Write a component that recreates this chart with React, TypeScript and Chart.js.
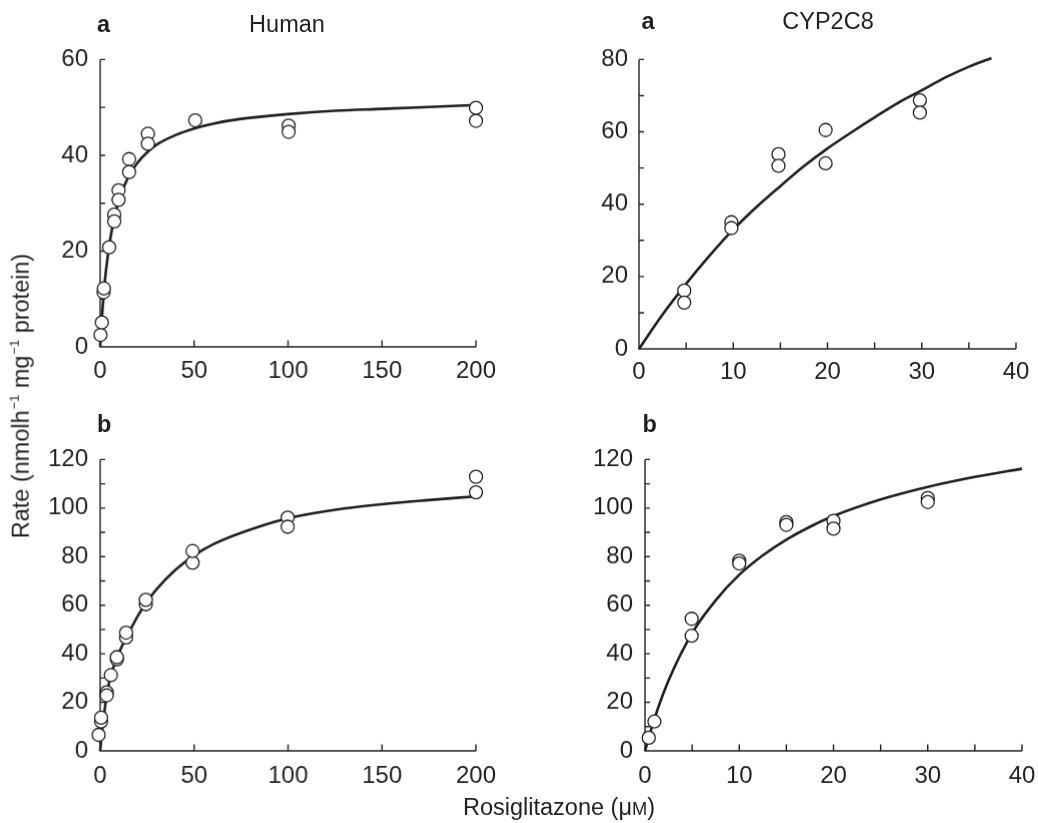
import React, { useEffect, useRef } from 'react';
import { Chart, registerables } from 'chart.js';

Chart.register(...registerables);

// ---------- Data ----------
// Human, panel a
const humanAPointsX = [0.2, 0.9, 1.8, 2, 4.8, 7.5, 7.5, 9.8, 9.8, 15.4, 15.4, 25.4, 25.4, 50.6, 100.3, 100.3, 200, 200];
const humanAPointsY = [2.5, 5.1, 11.4, 12.2, 20.8, 27.6, 26.2, 32.7, 30.7, 39.2, 36.5, 44.5, 42.4, 47.3, 46.2, 44.9, 49.9, 47.2];
const humanACurveX = [0, 0.5, 1, 2, 3, 5, 7.5, 10, 15, 20, 25, 30, 40, 50, 60, 75, 100, 125, 150, 175, 200];
const humanACurveY = [0, 3.4, 6.5, 11.6, 15.6, 21.5, 27, 30.6, 35.5, 38.5, 40.6, 42.2, 44.2, 45.6, 46.6, 47.6, 48.6, 49.3, 49.7, 50.1, 50.5];

// CYP2C8, panel a
const cypAPointsX = [4.8, 4.8, 9.8, 9.8, 14.8, 14.8, 19.8, 19.8, 29.8, 29.8];
const cypAPointsY = [16.1, 12.8, 35.0, 33.4, 53.8, 50.6, 60.5, 51.3, 68.7, 65.3];
const cypACurveX = [0, 2.5, 5, 7.5, 10, 12.5, 15, 17.5, 20, 22.5, 25, 27.5, 30, 32.5, 35, 37.4];
const cypACurveY = [0, 9.5, 18, 25.8, 33, 39.3, 45, 50.5, 55.4, 59.8, 64, 68, 71.5, 75, 78, 80.4];

// Human, panel b
const humanBPointsX = [-0.8, -0.8, -0.8, 0.5, 0.5, 3.5, 3.5, 5.7, 8.9, 8.9, 13.8, 13.8, 24.3, 24.3, 49.2, 49.2, 99.8, 99.8, 200, 200];
const humanBPointsY = [2.7, 4.0, 6.6, 12.1, 13.7, 24.1, 22.9, 31.2, 37.7, 38.6, 46.7, 48.7, 60.4, 62.2, 77.5, 82.3, 96.1, 92.3, 112.9, 106.5];
const humanBCurveX = [0, 1, 2, 3.5, 5, 7.5, 10, 15, 20, 25, 30, 40, 50, 60, 75, 100, 125, 150, 175, 200];
const humanBCurveY = [0, 8, 14.5, 23, 29, 35.5, 40.5, 48.3, 55.5, 61.5, 66.5, 74.5, 80.5, 85, 89.8, 95.8, 99.3, 101.6, 103.3, 104.8];

// CYP2C8, panel b
const cypBPointsX = [0.4, 1.0, 4.95, 4.95, 10, 10, 15, 15, 20, 20, 30, 30];
const cypBPointsY = [5.4, 12.1, 54.4, 47.4, 78.3, 77.2, 94.2, 93.1, 94.7, 91.5, 104.1, 102.5];
const cypBCurveX = [0, 1, 2.5, 5, 7.5, 10, 12.5, 15, 17.5, 20, 25, 30, 35, 40];
const cypBCurveY = [0, 13.2, 29, 48.5, 62, 72.5, 80.5, 87, 92.3, 96.7, 103.5, 108.7, 112.8, 116.2];

// Tick values
const xTicks200 = [0, 50, 100, 150, 200];
const xMinor200: number[] = [];
const xTicks40 = [0, 10, 20, 30, 40];
const xMinor40 = [5, 15, 25, 35];
const yTicks60 = [0, 20, 40, 60];
const yMinor60 = [10, 30, 50];
const yTicks80 = [0, 20, 40, 60, 80];
const yMinor80 = [10, 30, 50, 70];
const yTicks120 = [0, 20, 40, 60, 80, 100, 120];
const yMinor120 = [10, 30, 50, 70, 90, 110];

const INK = '#231f20';
const FONT = '"Liberation Sans", Arial, Helvetica, sans-serif';
const TICK_FONT = 24;

const ML = 80, MT = 20, MR = 35, MB = 55;

const inwardAxes = {
  id: 'inwardAxes',
  beforeDatasetsDraw(chart: any, _args: any, opts: any) {
    const ctx = chart.ctx;
    const xs = chart.scales.x;
    const ys = chart.scales.y;
    const x0 = xs.getPixelForValue(xs.min);
    const x1 = xs.getPixelForValue(xs.max);
    const y0 = ys.getPixelForValue(ys.min);
    const y1 = ys.getPixelForValue(ys.max);
    ctx.save();
    ctx.strokeStyle = INK;
    ctx.lineWidth = 1.4;
    ctx.lineCap = 'butt';
    ctx.beginPath();
    ctx.moveTo(x0, y1);
    ctx.lineTo(x0, y0);
    ctx.lineTo(x1, y0);
    const xt = [...opts.xTicks, ...opts.xMinor];
    xt.forEach((v: number) => {
      const p = xs.getPixelForValue(v);
      ctx.moveTo(p, y0);
      ctx.lineTo(p, y0 - 6.5);
    });
    const yt = [...opts.yTicks, ...opts.yMinor];
    yt.forEach((v: number) => {
      const p = ys.getPixelForValue(v);
      ctx.moveTo(x0, p);
      ctx.lineTo(x0 + 5, p);
    });
    ctx.stroke();
    ctx.restore();
  },
};

type PanelProps = {
  left: number; top: number; width: number; height: number;
  xMax: number; yMax: number;
  xTicks: number[]; xMinor: number[]; yTicks: number[]; yMinor: number[];
  px: number[]; py: number[]; cx: number[]; cy: number[];
  xPad: number; yPad: number;
};

function Panel(p: PanelProps) {
  const ref = useRef<HTMLCanvasElement | null>(null);
  useEffect(() => {
    if (!ref.current) return;
    const pts = p.px.map((x, i) => ({ x, y: p.py[i] }));
    const curve = p.cx.map((x, i) => ({ x, y: p.cy[i] }));
    const chart = new Chart(ref.current, {
      type: 'scatter',
      data: {
        datasets: [
          {
            data: pts,
            pointRadius: 6.5,
            pointBorderWidth: 1.3,
            pointBackgroundColor: '#ffffff',
            pointBorderColor: INK,
            showLine: false,
            clip: false,
          } as any,
          {
            data: curve,
            showLine: true,
            pointRadius: 0,
            borderColor: INK,
            borderWidth: 2.6,
            cubicInterpolationMode: 'monotone',
            clip: false,
          } as any,
        ],
      },
      options: {
        animation: false,
        responsive: false,
        maintainAspectRatio: false,
        devicePixelRatio: 1,
        events: [],
        layout: { padding: { left: 0, top: MT, right: MR, bottom: 0 } },
        plugins: {
          legend: { display: false },
          tooltip: { enabled: false },
          inwardAxes: { xTicks: p.xTicks, xMinor: p.xMinor, yTicks: p.yTicks, yMinor: p.yMinor },
        } as any,
        scales: {
          x: {
            type: 'linear',
            min: 0,
            max: p.xMax,
            grid: { display: false, drawTicks: false },
            border: { display: false },
            afterFit: (s: any) => { s.height = MB; },
            afterBuildTicks: (s: any) => { s.ticks = p.xTicks.map((v) => ({ value: v })); },
            ticks: {
              color: INK,
              padding: p.xPad,
              maxRotation: 0,
              autoSkip: false,
              font: { family: FONT, size: TICK_FONT },
              callback: (v: any) => String(v),
            },
          },
          y: {
            type: 'linear',
            min: 0,
            max: p.yMax,
            grid: { display: false, drawTicks: false },
            border: { display: false },
            afterFit: (s: any) => { s.width = ML; },
            afterBuildTicks: (s: any) => { s.ticks = p.yTicks.map((v) => ({ value: v })); },
            ticks: {
              color: INK,
              padding: p.yPad,
              autoSkip: false,
              font: { family: FONT, size: TICK_FONT },
              callback: (v: any) => String(v),
            },
          },
        },
      },
      plugins: [inwardAxes as any],
    });
    return () => chart.destroy();
  }, []);
  const cw = p.width + ML + MR;
  const ch = p.height + MT + MB;
  return (
    <canvas
      ref={ref}
      width={cw}
      height={ch}
      style={{ position: 'absolute', left: p.left - ML, top: p.top - MT, width: cw, height: ch }}
    />
  );
}

const textStyle: React.CSSProperties = {
  position: 'absolute',
  fontFamily: FONT,
  fontSize: 23.5,
  lineHeight: '23.5px',
  color: INK,
  whiteSpace: 'nowrap',
};

// baseline ≈ top + 19.9 for 23.5px Liberation Sans with matching line-height
function Label({ x, base, text, bold, center }: { x: number; base: number; text: string; bold?: boolean; center?: boolean }) {
  return (
    <div
      style={{
        ...textStyle,
        left: x,
        top: base - 19.9,
        fontWeight: bold ? 'bold' : 'normal',
        transform: center ? 'translateX(-50%)' : undefined,
      }}
    >
      {text}
    </div>
  );
}

export default function App() {
  const sup: React.CSSProperties = { fontSize: '0.55em', position: 'relative', top: '-0.75em', marginLeft: 1 };
  return (
    <div style={{ position: 'absolute', left: 0, top: 0, width: 1038, height: 823, background: '#ffffff', overflow: 'hidden' }}>
      <Panel left={100} top={53.3} width={375.7} height={293.4} xMax={200} yMax={60}
        xTicks={xTicks200} xMinor={xMinor200} yTicks={yTicks60} yMinor={yMinor60}
        px={humanAPointsX} py={humanAPointsY} cx={humanACurveX} cy={humanACurveY} xPad={10} yPad={12} />
      <Panel left={639} top={54.3} width={377} height={294.7} xMax={40} yMax={80}
        xTicks={xTicks40} xMinor={xMinor40} yTicks={yTicks80} yMinor={yMinor80}
        px={cypAPointsX} py={cypAPointsY} cx={cypACurveX} cy={cypACurveY} xPad={9.3} yPad={11} />
      <Panel left={100} top={453.3} width={375.7} height={297.4} xMax={200} yMax={120}
        xTicks={xTicks200} xMinor={xMinor200} yTicks={yTicks120} yMinor={yMinor120}
        px={humanBPointsX} py={humanBPointsY} cx={humanBCurveX} cy={humanBCurveY} xPad={11.4} yPad={12} />
      <Panel left={645} top={453.3} width={377.3} height={297.4} xMax={40} yMax={120}
        xTicks={xTicks40} xMinor={xMinor40} yTicks={yTicks120} yMinor={yMinor120}
        px={cypBPointsX} py={cypBPointsY} cx={cypBCurveX} cy={cypBCurveY} xPad={11.4} yPad={12} />

      <Label x={97} base={33.3} text="a" bold />
      <Label x={287} base={33.3} text="Human" center />
      <Label x={641.5} base={29.5} text="a" bold />
      <Label x={828} base={29.5} text="CYP2C8" center />
      <Label x={97} base={433.3} text="b" bold />
      <Label x={642.5} base={432.5} text="b" bold />

      <div style={{ ...textStyle, left: 559, top: 816 - 19.9, transform: 'translateX(-50%)' }}>
        Rosiglitazone (μ<span style={{ fontSize: '0.78em' }}>M</span>)
      </div>

      <div
        style={{
          ...textStyle,
          left: 23,
          top: 396,
          transform: 'translate(-50%, -50%) rotate(-90deg)',
        }}
      >
        Rate (nmolh<span style={sup}>−1</span> mg<span style={sup}>−1</span> protein)
      </div>
    </div>
  );
}
